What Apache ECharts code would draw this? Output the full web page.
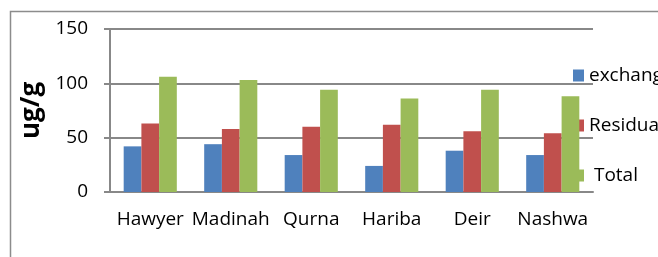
<!DOCTYPE html>
<html>
<head>
<meta charset="utf-8">
<script src="https://cdn.jsdelivr.net/npm/echarts@6/dist/echarts.min.js"></script>
<style>
    html, body { margin: 0; padding: 0; background: #fff; }
    #main { width: 658px; height: 257px; }
</style>
</head>
<body>
<div id="main"></div>
<script>
const sites = ['Hawyer', 'Madinah', 'Qurna', 'Hariba', 'Deir', 'Nashwa']
const exchangeable = [42, 44, 34, 24, 38, 34]
const residual = [63, 58, 60, 62, 56, 54]
const total = [106, 103, 94, 86, 94, 88]
const yTicks = [0, 50, 100, 150]

const font = '"Open Sans", sans-serif'
const gray = '#888'

let bar = (name, data, color) => ({
    name,
    type: 'bar',
    data,
    barGap: 0,
    barCategoryGap: '34%',
    itemStyle: { color }
})

let chart = echarts.init(document.getElementById('main'))
chart.setOption({
    animation: false,
    textStyle: { fontFamily: font },
    graphic: [{
        type: 'rect',
        z: 0,
        shape: { x: 10.5, y: 11.5, width: 720, height: 320 },
        style: { fill: 'none', stroke: '#8c8c8c', lineWidth: 1.5 }
    }],
    grid: { left: 110, right: 65, top: 29, bottom: 65 },
    legend: {
        orient: 'vertical',
        left: 568,
        top: 61,
        z: 1,
        itemWidth: 11,
        itemHeight: 12,
        itemGap: 31,
        icon: 'rect',
        selectedMode: false,
        formatter: name => (name === 'Total' ? ' ' + name : name),
        textStyle: { fontFamily: font, fontSize: 19, color: '#000', lineHeight: 18 }
    },
    xAxis: {
        type: 'category',
        data: sites,
        axisLine: { lineStyle: { color: gray, width: 2 } },
        axisTick: { length: 6, lineStyle: { color: gray, width: 2 } },
        axisLabel: { interval: 0, fontFamily: font, fontSize: 19, color: '#000', margin: 18 }
    },
    yAxis: {
        type: 'value',
        min: yTicks[0],
        max: yTicks[yTicks.length - 1],
        interval: 50,
        name: 'ug/g',
        nameLocation: 'middle',
        nameRotate: 90,
        nameGap: 60,
        nameTextStyle: { fontFamily: font, fontSize: 26, fontWeight: 'bold', color: '#000' },
        axisLine: { show: true, lineStyle: { color: gray, width: 2 } },
        axisTick: { show: true, length: 6, lineStyle: { color: gray, width: 2 } },
        splitLine: { lineStyle: { color: gray, width: 2 } },
        axisLabel: { fontFamily: font, fontSize: 19, color: '#000', margin: 22 }
    },
    series: [
        bar('exchangeable', exchangeable, '#4f81bd'),
        bar('Residual', residual, '#c0504d'),
        bar('Total', total, '#9bbb59')
    ]
})
</script>
</body>
</html>
